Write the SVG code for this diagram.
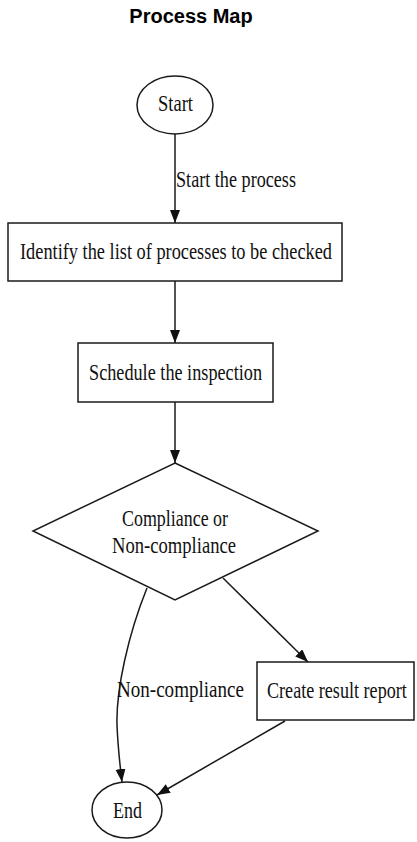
<svg xmlns="http://www.w3.org/2000/svg" width="417" height="842" viewBox="0 0 417 842">
<style>
.shape{fill:#fff;stroke:#1a1a1a;stroke-width:1.5}
.edge{fill:none;stroke:#1a1a1a;stroke-width:1.5}
.t{font-family:"Liberation Serif","Times New Roman",serif;font-size:23px;fill:#111}
.title{font-family:"Liberation Sans",Arial,sans-serif;font-size:20px;font-weight:bold;fill:#000}
</style>
<defs>
<marker id="arr" markerUnits="userSpaceOnUse" markerWidth="14" markerHeight="11" refX="13" refY="5" orient="auto">
<path d="M0,0 L13,5 L0,10 z" fill="#111"/>
</marker>
</defs>
<rect width="417" height="842" fill="#fff"/>
<text class="title" x="191" y="23" text-anchor="middle">Process Map</text>
<g id="connectors">
<path class="edge" d="M175,134 L175,223" marker-end="url(#arr)"/>
<path class="edge" d="M175,281 L175,343" marker-end="url(#arr)"/>
<path class="edge" d="M175,402 L175,463" marker-end="url(#arr)"/>
<path class="edge" d="M223,578 L308,662" marker-end="url(#arr)"/>
<path class="edge" d="M147,588 C128,635 116,690 117,725 C118,750 120,765 122,782" marker-end="url(#arr)"/>
<path class="edge" d="M285,721 L157,795" marker-end="url(#arr)"/>
<text class="t" x="176" y="187" textLength="120" lengthAdjust="spacingAndGlyphs">Start the process</text>
<text class="t" x="117" y="697" textLength="127" lengthAdjust="spacingAndGlyphs">Non-compliance</text>
</g>
<g id="start">
<ellipse class="shape" cx="175" cy="105" rx="38" ry="29"/>
<text class="t" x="158" y="111" textLength="35" lengthAdjust="spacingAndGlyphs">Start</text>
</g>
<g id="identify">
<rect class="shape" x="8" y="223" width="334" height="58"/>
<text class="t" x="20" y="259" textLength="312" lengthAdjust="spacingAndGlyphs">Identify the list of processes to be checked</text>
</g>
<g id="schedule">
<rect class="shape" x="78" y="343" width="195" height="59"/>
<text class="t" x="89" y="380" textLength="173" lengthAdjust="spacingAndGlyphs">Schedule the inspection</text>
</g>
<g id="decision">
<polygon class="shape" points="175,463 318,531 175,600 33,531"/>
<text class="t" x="122" y="526" textLength="106" lengthAdjust="spacingAndGlyphs">Compliance or</text>
<text class="t" x="112" y="553" textLength="124" lengthAdjust="spacingAndGlyphs">Non-compliance</text>
</g>
<g id="report">
<rect class="shape" x="257" y="662" width="157" height="58"/>
<text class="t" transform="translate(267,698) scale(0.79,1)" x="0" y="0" textLength="177" lengthAdjust="spacingAndGlyphs">Create result report</text>
</g>
<g id="end">
<ellipse class="shape" cx="127" cy="810" rx="35" ry="28"/>
<text class="t" x="113" y="818" textLength="29" lengthAdjust="spacingAndGlyphs">End</text>
</g>
</svg>
